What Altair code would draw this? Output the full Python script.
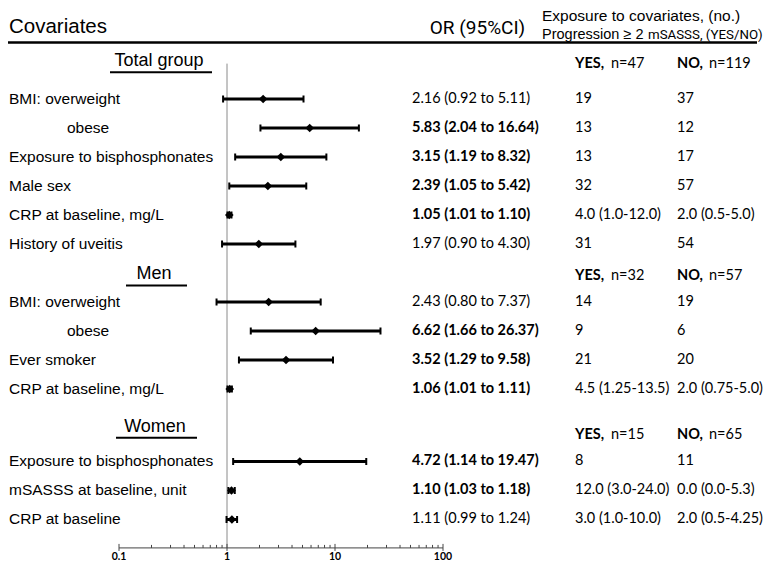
import altair as alt
import pandas as pd

# ---------------- data ----------------
covariates = ["BMI: overweight", "obese", "Exposure to bisphosphonates", "Male sex",
              "CRP at baseline, mg/L", "History of uveitis",
              "BMI: overweight", "obese", "Ever smoker", "CRP at baseline, mg/L",
              "Exposure to bisphosphonates", "mSASSS at baseline, unit", "CRP at baseline"]
rows = [1, 2, 3, 4, 5, 6, 8, 9, 10, 11, 13.5, 14.5, 15.5]
or_est = [2.16, 5.83, 3.15, 2.39, 1.05, 1.97, 2.43, 6.62, 3.52, 1.06, 4.72, 1.10, 1.11]
ci_lo = [0.92, 2.04, 1.19, 1.05, 1.01, 0.90, 0.80, 1.66, 1.29, 1.01, 1.14, 1.03, 0.99]
ci_hi = [5.11, 16.64, 8.32, 5.42, 1.10, 4.30, 7.37, 26.37, 9.58, 1.11, 19.47, 1.18, 1.24]
or_text = ["2.16 (0.92 to 5.11)", "5.83 (2.04 to 16.64)", "3.15 (1.19 to 8.32)",
           "2.39 (1.05 to 5.42)", "1.05 (1.01 to 1.10)", "1.97 (0.90 to 4.30)",
           "2.43 (0.80 to 7.37)", "6.62 (1.66 to 26.37)", "3.52 (1.29 to 9.58)",
           "1.06 (1.01 to 1.11)", "4.72 (1.14 to 19.47)", "1.10 (1.03 to 1.18)",
           "1.11 (0.99 to 1.24)"]
or_bold = [False, True, True, True, True, False, False, True, True, True, True, True, False]
yes_vals = ["19", "13", "13", "32", "4.0 (1.0-12.0)", "31",
            "14", "9", "21", "4.5 (1.25-13.5)",
            "8", "12.0 (3.0-24.0)", "3.0 (1.0-10.0)"]
no_vals = ["37", "12", "17", "57", "2.0 (0.5-5.0)", "54",
           "19", "6", "20", "2.0 (0.75-5.0)",
           "11", "0.0 (0.0-5.3)", "2.0 (0.5-4.25)"]

sections = ["Total group", "Men", "Women"]
section_rows = [-0.3, 7.05, 12.3]
n_rows = [-0.2, 7.1, 12.6]
yes_n = [47, 32, 15]
no_n = [119, 57, 65]

tick_values = [0.1, 0.2, 0.3, 0.4, 0.5, 0.6, 0.7, 0.8, 0.9,
               1, 2, 3, 4, 5, 6, 7, 8, 9,
               10, 20, 30, 40, 50, 60, 70, 80, 90, 100]
major_ticks = [0.1, 1, 10, 100]
major_labels = ["0.1", "1", "10", "100"]

# ---------------- layout ----------------
W, H = 762, 555
axis_row = 16.48
ref_top_row = -0.22
sec_center_x = [151, 146, 147]
sec_underline = [(102, 204), (118, 179), (108, 189)]

df = pd.DataFrame(dict(label=covariates, row=rows, est=or_est, lo=ci_lo, hi=ci_hi,
                       or_txt=or_text, bold=or_bold, yes=yes_vals, no=no_vals))
sec_df = pd.DataFrame(dict(sec=sections, srow=section_rows, nrow=n_rows,
                           yes_n=yes_n, no_n=no_n))
sec_df["yes_t"] = ["n=" + str(v) for v in yes_n]
sec_df["no_t"] = ["n=" + str(v) for v in no_n]
ticks_df = pd.DataFrame(dict(v=tick_values, major=[v in major_ticks for v in tick_values]))
ticks_df["ay"] = axis_row
lab_df = pd.DataFrame(dict(v=major_ticks, t=major_labels))
lab_df["ay"] = axis_row
ref_df = pd.DataFrame(dict(x=[1.0], y1=[ref_top_row], y2=[axis_row]))
axis_df = pd.DataFrame(dict(x1=[0.1], x2=[100.0], ay=[axis_row]))

yscale = alt.Scale(domain=[-2.1379, 17.0], range=[0, H], zero=False, nice=False)
xscale = alt.Scale(type="log", domain=[0.1, 100], range=[111, 435], nice=False)

Y = alt.Y("row:Q", scale=yscale, axis=None)
LABFONT = "Liberation Sans"
NUMFONT = "Lato"

layers = []
base = alt.Chart(df)

# left labels
layers.append(base.transform_filter("datum.label != 'obese'").mark_text(
    align="left", baseline="middle", font=LABFONT, fontSize=15.5, color="black"
).encode(x=alt.value(1), y=Y, text="label:N"))
layers.append(base.transform_filter("datum.label == 'obese'").mark_text(
    align="left", baseline="middle", font=LABFONT, fontSize=15.5, color="black"
).encode(x=alt.value(59), y=Y, text="label:N"))

# reference line at OR = 1
layers.append(alt.Chart(ref_df).mark_rule(color="#8a8a8a", strokeWidth=1).encode(
    x=alt.X("x:Q", scale=xscale, axis=None),
    y=alt.Y("y1:Q", scale=yscale, axis=None), y2="y2:Q"))

# CI lines, caps, points
layers.append(base.mark_rule(color="black", strokeWidth=3).encode(
    x=alt.X("lo:Q", scale=xscale, axis=None), x2="hi:Q", y=Y))
for f in ["lo", "hi"]:
    layers.append(base.mark_rule(color="black", strokeWidth=2, yOffset=-3.5, y2Offset=3.5).encode(
        x=alt.X(f + ":Q", scale=xscale, axis=None), y=Y, y2="row:Q"))
layers.append(base.mark_point(shape="diamond", filled=True, size=75, color="black", opacity=1).encode(
    x=alt.X("est:Q", scale=xscale, axis=None), y=Y))

# OR text
layers.append(base.transform_filter("datum.bold").mark_text(
    align="left", baseline="middle", font=NUMFONT, fontSize=14.5, fontWeight="bold", color="black"
).encode(x=alt.value(404), y=Y, text="or_txt:N"))
layers.append(base.transform_filter("!datum.bold").mark_text(
    align="left", baseline="middle", font=NUMFONT, fontSize=14.5, color="black"
).encode(x=alt.value(404), y=Y, text="or_txt:N"))

# YES / NO values
layers.append(base.mark_text(align="left", baseline="middle", font=NUMFONT, fontSize=14.5, color="black").encode(
    x=alt.value(567), y=Y, text="yes:N"))
layers.append(base.mark_text(align="left", baseline="middle", font=NUMFONT, fontSize=14.5, color="black").encode(
    x=alt.value(669), y=Y, text="no:N"))

# section headers and n headers
sbase = alt.Chart(sec_df)
SY = alt.Y("srow:Q", scale=yscale, axis=None)
NY = alt.Y("nrow:Q", scale=yscale, axis=None)
for i, s in enumerate(sections):
    sb = sbase.transform_filter("datum.sec == '%s'" % s)
    layers.append(sb.mark_text(align="center", baseline="middle", font=LABFONT, fontSize=18, color="black").encode(
        x=alt.value(sec_center_x[i]), y=SY, text="sec:N"))
    layers.append(sb.mark_rule(color="black", strokeWidth=2, yOffset=11).encode(
        x=alt.value(sec_underline[i][0]), x2=alt.value(sec_underline[i][1]), y=SY))
layers.append(sbase.mark_text(align="left", baseline="middle", font=NUMFONT, fontSize=14.5,
                              fontWeight="bold", color="black", text="YES,").encode(
    x=alt.value(567), y=NY))
layers.append(sbase.mark_text(align="left", baseline="middle", font=NUMFONT, fontSize=14.5, color="black").encode(
    x=alt.value(603), y=NY, text="yes_t:N"))
layers.append(sbase.mark_text(align="left", baseline="middle", font=NUMFONT, fontSize=14.5,
                              fontWeight="bold", color="black", text="NO,").encode(
    x=alt.value(669), y=NY))
layers.append(sbase.mark_text(align="left", baseline="middle", font=NUMFONT, fontSize=14.5, color="black").encode(
    x=alt.value(701), y=NY, text="no_t:N"))

# x axis (drawn manually from the tick values through the log scale)
layers.append(alt.Chart(axis_df).mark_rule(color="#444444", strokeWidth=1).encode(
    x=alt.X("x1:Q", scale=xscale, axis=None), x2="x2:Q", y=alt.Y("ay:Q", scale=yscale, axis=None)))
tb = alt.Chart(ticks_df)
layers.append(tb.transform_filter("datum.major").mark_rule(
    color="#444444", strokeWidth=1, yOffset=-4, y2Offset=3).encode(
    x=alt.X("v:Q", scale=xscale, axis=None), y=alt.Y("ay:Q", scale=yscale, axis=None), y2="ay:Q"))
layers.append(tb.transform_filter("!datum.major").mark_rule(
    color="#444444", strokeWidth=1, yOffset=-3, y2Offset=0).encode(
    x=alt.X("v:Q", scale=xscale, axis=None), y=alt.Y("ay:Q", scale=yscale, axis=None), y2="ay:Q"))
layers.append(alt.Chart(lab_df).mark_text(baseline="top", dy=4, font=NUMFONT, fontSize=10.5,
                                          fontWeight="bold", color="black").encode(
    x=alt.X("v:Q", scale=xscale, axis=None), y=alt.Y("ay:Q", scale=yscale, axis=None), text="t:N"))

# column headers
hdr = alt.Chart(pd.DataFrame({"a": [0]}))
layers.append(hdr.mark_text(align="left", baseline="middle", font=LABFONT, fontSize=20.5, color="black",
                            text="Covariates").encode(x=alt.value(1), y=alt.value(18.5)))
layers.append(hdr.mark_text(align="center", baseline="middle", font="Roboto", fontSize=19,
                            color="black", text="OR (95%CI)").encode(x=alt.value(469.5), y=alt.value(20)))
layers.append(hdr.mark_text(align="left", baseline="alphabetic", font=LABFONT, fontSize=15.5, color="black",
                            text="Exposure to covariates, (no.)").encode(x=alt.value(534), y=alt.value(12.5)))
layers.append(hdr.mark_text(align="left", baseline="alphabetic", font=LABFONT, fontSize=14.5, color="black",
                            text="Progression \u2265 2").encode(x=alt.value(534), y=alt.value(31)))
layers.append(hdr.mark_text(align="left", baseline="alphabetic", font="Roboto", fontSize=13.3, color="black",
                            text="mSASSS, (YES/NO)").encode(x=alt.value(640), y=alt.value(31)))
layers.append(hdr.mark_rule(color="black", strokeWidth=2.5).encode(
    x=alt.value(0), x2=alt.value(749), y=alt.value(34.5)))

chart = alt.layer(*layers).properties(
    width=W, height=H, padding=0, autosize=alt.AutoSizeParams(type="none")
).configure_view(stroke=None)

chart.save("out.html", embed_options={"renderer": "svg", "actions": False})
